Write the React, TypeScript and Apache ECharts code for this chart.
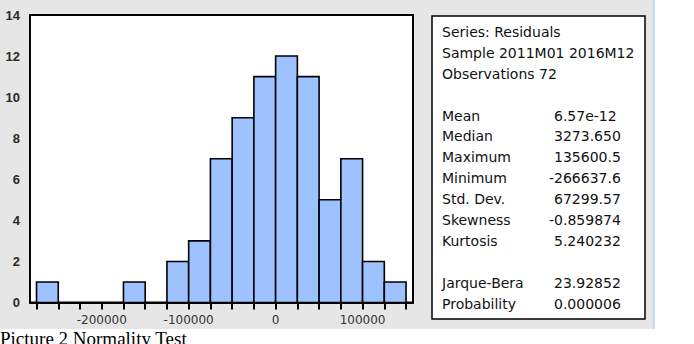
import React, { useEffect, useRef } from "react";
import * as echarts from "echarts";

// Histogram bins (residuals), bin width 25000
const binEdges = [
  -275000, -250000, -225000, -200000, -175000, -150000, -125000, -100000, -75000,
  -50000, -25000, 0, 25000, 50000, 75000, 100000, 125000, 150000,
];
const counts = [1, 0, 0, 0, 1, 0, 2, 3, 7, 9, 11, 12, 11, 5, 7, 2, 1];
const xTickLabels = [-200000, -100000, 0, 100000];

const headerLines = ["Series: Residuals", "Sample 2011M01 2016M12", "Observations 72"];
const statLabels = ["Mean", "Median", "Maximum", "Minimum", "Std. Dev.", "Skewness", "Kurtosis"];
const statValues = ["6.57e-12", "3273.650", "135600.5", "-266637.6", "67299.57", "-0.859874", "5.240232"];
const testLabels = ["Jarque-Bera", "Probability"];
const testValues = ["23.92852", "0.000006"];
const caption = "Picture 2 Normality Test";

export default function App() {
  const ref = useRef<HTMLDivElement>(null);
  useEffect(() => {
    if (!ref.current) return;
    const chart = echarts.init(ref.current, null, { renderer: "svg" });
    const histData = counts.map((c, i) => [binEdges[i], binEdges[i + 1], c]);

    const font = "DejaVu Sans";
    const lineY = (i: number) => 31.7 + i * 20.95;
    const textEls: any[] = [];
    const pushLine = (i: number, label: string, value?: string) => {
      textEls.push({
        type: "text",
        x: 442,
        y: lineY(i),
        style: { text: label, fill: "#111", font: `14px '${font}'`, textVerticalAlign: "middle", textAlign: "left" },
        z: 10,
      });
      if (value !== undefined) {
        textEls.push({
          type: "text",
          x: value.startsWith("-") ? 549 : 554,
          y: lineY(i),
          style: { text: value, fill: "#111", font: `14px '${font}'`, textVerticalAlign: "middle", textAlign: "left" },
          z: 10,
        });
      }
    };
    headerLines.forEach((t, i) => pushLine(i, t));
    statLabels.forEach((t, i) => pushLine(4 + i, t, statValues[i]));
    testLabels.forEach((t, i) => pushLine(12 + i, t, testValues[i]));

    chart.setOption({
      animation: false,
      backgroundColor: "#ffffff",
      grid: {
        left: 30,
        top: 15,
        width: 383,
        height: 287.5,
        show: true,
        backgroundColor: "#ffffff",
        borderColor: "#000000",
        borderWidth: 2,
        z: 1,
      },
      xAxis: {
        type: "value",
        min: -282500,
        max: 158000,
        splitLine: { show: false },
        axisLine: { show: true, onZero: false, lineStyle: { color: "#000", width: 2 } },
        axisTick: {
          show: true,
          inside: false,
          length: 7,
          customValues: binEdges,
          lineStyle: { color: "#000", width: 2 },
        },
        axisLabel: {
          show: true,
          customValues: xTickLabels,
          margin: 11,
          color: "#333",
          fontFamily: font,
          fontSize: 12,
          formatter: (v: number) => String(v),
        },
      },
      yAxis: {
        type: "value",
        min: 0,
        max: 14,
        interval: 2,
        splitLine: { show: false },
        axisLine: { show: true, lineStyle: { color: "#000", width: 2 } },
        axisTick: { show: true, inside: false, length: 6, lineStyle: { color: "#000", width: 1.5 } },
        axisLabel: {
          margin: 10,
          color: "#2a2a2a",
          fontFamily: "Liberation Sans",
          fontWeight: "bold",
          fontSize: 13,
        },
      },
      series: [
        {
          type: "custom",
          data: histData,
          encode: { x: [0, 1], y: 2 },
          z: 3,
          renderItem: (params: any, api: any) => {
            const lo = api.value(0);
            const hi = api.value(1);
            const c = api.value(2);
            if (!c) return null;
            const p0 = api.coord([lo, c]);
            const p1 = api.coord([hi, 0]);
            return {
              type: "rect",
              shape: { x: p0[0], y: p0[1], width: p1[0] - p0[0], height: p1[1] - p0[1] },
              style: { fill: "#9dc2ff", stroke: "#000", lineWidth: 1.6 },
            };
          },
        },
      ],
      graphic: [
        {
          type: "rect",
          z: -10,
          shape: { x: 0, y: 0, width: 653, height: 329 },
          style: { fill: "#e6e6e6" },
        },
        {
          type: "rect",
          z: -10,
          shape: { x: 653, y: 0, width: 2, height: 329 },
          style: { fill: "#c6d7ec" },
        },
        {
          type: "rect",
          z: 5,
          shape: { x: 432, y: 16, width: 213, height: 303 },
          style: { fill: "#ffffff", stroke: "#000", lineWidth: 1.5 },
        },
        ...textEls,
        {
          type: "text",
          x: 0,
          y: 329,
          z: 10,
          style: { text: caption, fill: "#000", font: "19px 'Liberation Serif'", textAlign: "left", textVerticalAlign: "top" },
        },
      ],
    });
    return () => chart.dispose();
  }, []);
  return (
    <div style={{ position: "fixed", left: 0, top: 0, width: 694, height: 344, overflow: "hidden", background: "#fff" }}>
      <div ref={ref} style={{ width: 694, height: 344 }} />
    </div>
  );
}
